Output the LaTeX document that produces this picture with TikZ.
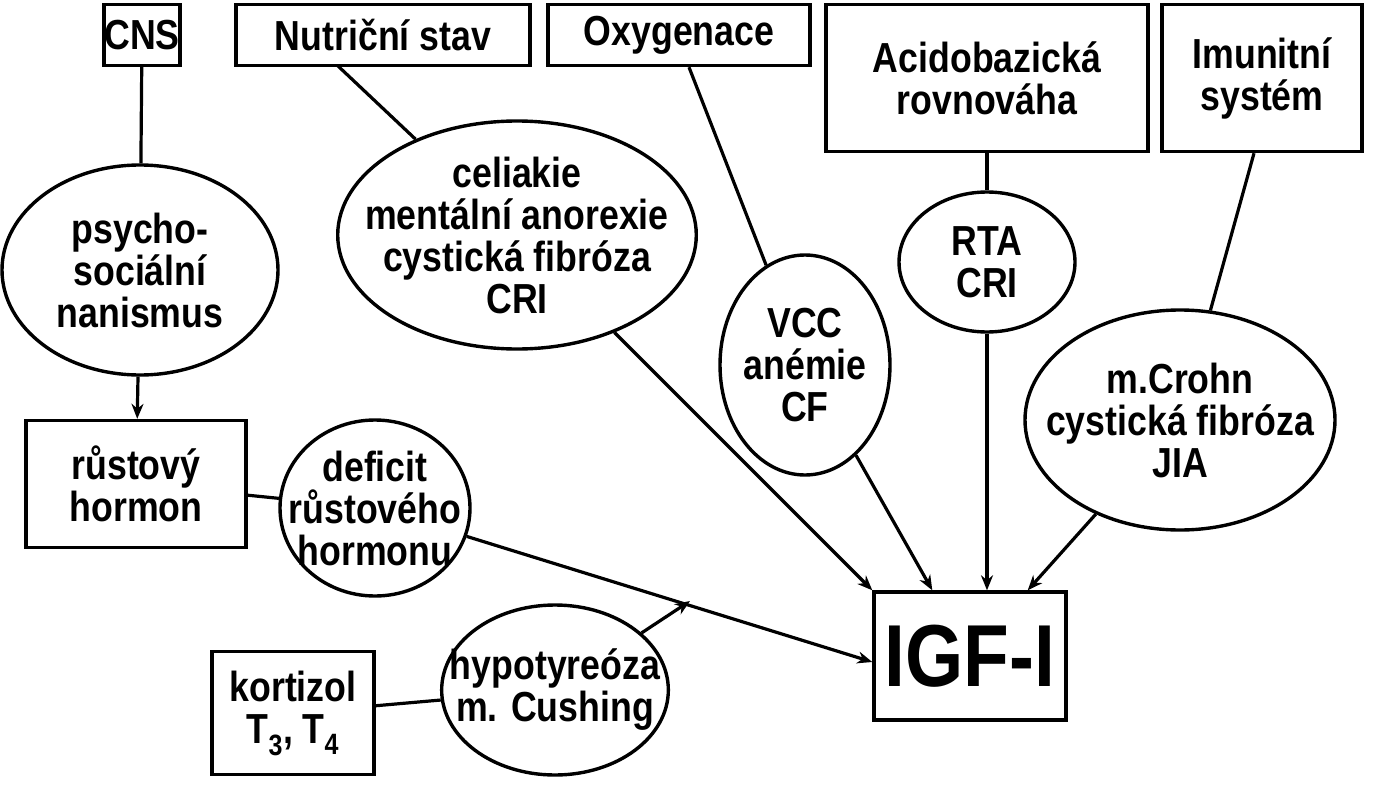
\documentclass[tikz,border=0pt]{standalone}
\usepackage{fontspec}
\setmainfont{Liberation Sans}[FakeStretch=0.85]
\usetikzlibrary{shapes.geometric,arrows.meta}
\begin{document}
\begin{tikzpicture}[x=1pt,y=-1pt,
  every node/.style={font=\bfseries\fontsize{42}{42}\selectfont,align=center,inner sep=0pt,line width=3.4pt},
  bx/.style={draw,rectangle},
  el/.style={draw,ellipse,inner xsep=-25pt,inner ysep=-12pt},
  ln/.style={line width=3.2pt},
  ar/.style={line width=3.2pt,-{Stealth[length=15pt,width=12pt]}}]
\useasboundingbox (0,0) rectangle (1376,800);
\node[bx,minimum width=76,minimum height=61] (cns) at (142,35) {CNS};
\node[bx,minimum width=294,minimum height=61] (nut) at (383,35) {Nutriční stav};
\node[bx,minimum width=262,minimum height=61] (oxy) at (679,35) {Oxygenace};
\node[bx,minimum width=322,minimum height=147] (aci) at (987,78) {Acidobazická\\rovnováha};
\node[bx,minimum width=200,minimum height=147] (imu) at (1262,78) {Imunitní\\systém};
\node[bx,minimum width=220,minimum height=127] (gh) at (136,484) {růstový\\hormon};
\node[bx,minimum width=192,minimum height=128,font=\bfseries\fontsize{88}{90}\selectfont] (igf) at (970,656) {IGF-I};
\node[bx,minimum width=162,minimum height=123] (kor) at (293,713) {kortizol\\T\textsubscript{3}, T\textsubscript{4}};
\node[el,minimum width=276,minimum height=210] (psy) at (140,270) {psycho-\\sociální\\nanismus};
\node[el,minimum width=350,minimum height=228] (cel) at (517,235) {celiakie\\mentální anorexie\\cystická fibróza\\CRI};
\node[el,minimum width=170,minimum height=220] (vcc) at (805,365) {VCC\\anémie\\CF};
\node[el,minimum width=176,minimum height=140] (rta) at (987,262) {RTA\\CRI};
\node[el,minimum width=310,minimum height=220] (cro) at (1180,420) {m.Crohn\\cystická fibróza\\JIA};
\node[el,minimum width=190,minimum height=176] (def) at (375,508) {deficit\\růstového\\hormonu};
\node[el,minimum width=200,minimum height=170] (hyp) at (555,690) {hypotyreóza\\m. Cushing};
\coordinate (nb) at (338,66);
\coordinate (hit) at (690,601);
\draw[ln] (cns) -- (psy);
\draw[ar] (psy) -- (gh);
\draw[ln] (nb) -- (cel);
\draw[ar] (cel) -- (igf.north west);
\draw[ln] (oxy.south) ++(10,0) -- (vcc);
\draw[ar] (vcc) -- ([xshift=60pt]igf.north west);
\draw[ln] (aci) -- (rta);
\draw[ar] (rta) -- ([xshift=17pt]igf.north);
\draw[ln] ([xshift=-8pt]imu.south) -- (cro);
\draw[ar] (cro) -- ([xshift=-40pt]igf.north east);
\draw[ln] (gh) -- (def);
\draw[ar] (def) -- ([yshift=-6pt]igf.west);
\draw[ln] (kor) -- (hyp);
\draw[ar] (hyp) -- (hit);
\end{tikzpicture}
\end{document}
